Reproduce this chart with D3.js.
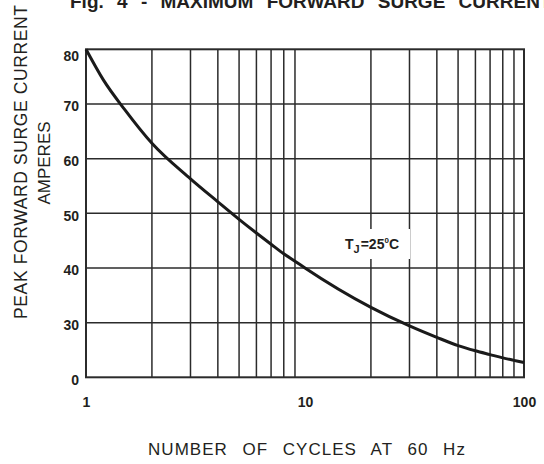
<!DOCTYPE html>
<html>
<head>
<meta charset="utf-8">
<script src="https://cdn.jsdelivr.net/npm/d3@7"></script>
<style>
  html, body { margin: 0; padding: 0; background: #fff; }
  svg { display: block; }
  text { font-family: "Liberation Sans", Arial, Helvetica, sans-serif; fill: #231f20; }
</style>
</head>
<body>
<svg id="chart" width="544" height="464"></svg>
<script>
// ---- data ----
const cycles  = [1, 1.2, 1.5, 2, 3, 4, 5, 6, 7, 8, 9, 10, 20, 30, 40, 50, 60, 70, 80, 90, 100];
const current = [80, 74.4, 69, 62.8, 56.3, 52.1, 48.9, 46.4, 44.35, 42.6, 41.25, 40, 32.8, 29.4, 27.3, 25.8, 24.85, 24.15, 23.55, 23.1, 22.7];

const xTickValues = [1, 10, 100];
const xGridValues = [2, 3, 4, 5, 6, 7, 8, 9, 20, 30, 40, 50, 60, 70, 80, 90];
const yTickValues = [20, 30, 40, 50, 60, 70, 80];
const yTickLabels = ["0", "30", "40", "50", "60", "70", "80"];

const titleText = "Fig. 4 - MAXIMUM FORWARD SURGE CURRENT";
const yLabel1 = "PEAK FORWARD SURGE CURRENT";
const yLabel2 = "AMPERES";
const xLabel = "NUMBER OF CYCLES AT 60 Hz";

// ---- layout ----
const svg = d3.select("#chart");
const pLeft = 86, pRight = 524, pTop = 49.3, pBottom = 377.3;

const x = d3.scaleLog().domain([1, 100]).range([pLeft, pRight]);
const y = d3.scaleLinear().domain([20, 80]).range([pBottom, pTop]);

const gridColor = "#2b2b2b";

// grid: vertical
svg.append("g").selectAll("line").data(xGridValues).join("line")
  .attr("x1", d => x(d)).attr("x2", d => x(d))
  .attr("y1", pTop).attr("y2", pBottom)
  .attr("stroke", gridColor).attr("stroke-width", 1.5);

// grid: horizontal
svg.append("g").selectAll("line").data(yTickValues.slice(1, -1)).join("line")
  .attr("x1", pLeft).attr("x2", pRight)
  .attr("y1", d => y(d)).attr("y2", d => y(d))
  .attr("stroke", gridColor).attr("stroke-width", 1.5);

// frame
svg.append("rect")
  .attr("x", pLeft).attr("y", pTop)
  .attr("width", pRight - pLeft).attr("height", pBottom - pTop)
  .attr("fill", "none").attr("stroke", gridColor).attr("stroke-width", 2);

// x axis tick labels
const xAxis = d3.axisBottom(x).tickValues(xTickValues).tickSize(0).tickPadding(20)
  .tickFormat(d3.format("d"));
const gx = svg.append("g").attr("transform", `translate(0,${pBottom})`).call(xAxis);
gx.select(".domain").remove();
gx.selectAll("text").attr("font-size", 14).attr("font-weight", "bold")
  .attr("font-family", "Liberation Sans, Arial, sans-serif").attr("fill", "#231f20");

// y axis tick labels
const yAxis = d3.axisLeft(y).tickValues(yTickValues).tickSize(0).tickPadding(7)
  .tickFormat((d, i) => yTickLabels[i]);
const gy = svg.append("g").attr("transform", `translate(${pLeft},0)`).call(yAxis);
gy.select(".domain").remove();
gy.selectAll("text").attr("font-size", 14).attr("font-weight", "bold")
  .attr("font-family", "Liberation Sans, Arial, sans-serif").attr("fill", "#231f20")
  .attr("dy", (d, i) => (i === yTickValues.length - 1 ? "0.78em" : "0.5em"));

// curve
const pts = cycles.map((c, i) => [c, current[i]]);
svg.append("path")
  .datum(pts)
  .attr("fill", "none")
  .attr("stroke", "#1a1a1a")
  .attr("stroke-width", 3)
  .attr("d", d3.line().x(d => x(d[0])).y(d => y(d[1])).curve(d3.curveMonotoneX));

// annotation with white box
svg.append("rect").attr("x", 336).attr("y", 229).attr("width", 74).attr("height", 30).attr("fill", "#fff");
const ann = svg.append("text").attr("x", 345).attr("y", 248.5)
  .attr("font-size", 14).attr("font-weight", "bold");
ann.append("tspan").text("T");
ann.append("tspan").attr("font-size", 11).attr("dy", 4).text("J");
ann.append("tspan").attr("dy", -4).attr("dx", 1).text("=25");
ann.append("tspan").attr("font-size", 8).attr("dy", -6).text("0");
ann.append("tspan").attr("dy", 6).text("C");

// title
svg.append("text").attr("x", 70).attr("y", 7.5)
  .attr("font-size", 19).attr("font-weight", "bold")
  .attr("word-spacing", 8)
  .text(titleText);

// y labels
svg.append("text")
  .attr("transform", "translate(27,162) rotate(-90)")
  .attr("text-anchor", "middle")
  .attr("font-size", 17.5)
  .attr("textLength", 314).attr("lengthAdjust", "spacing")
  .text(yLabel1);
svg.append("text")
  .attr("transform", "translate(49.5,163) rotate(-90)")
  .attr("text-anchor", "middle")
  .attr("font-size", 17)
  .text(yLabel2);

// x label
svg.append("text")
  .attr("x", 307).attr("y", 455)
  .attr("text-anchor", "middle")
  .attr("font-size", 17)
  .attr("letter-spacing", 1)
  .attr("word-spacing", 9)
  .text(xLabel);
</script>
</body>
</html>
